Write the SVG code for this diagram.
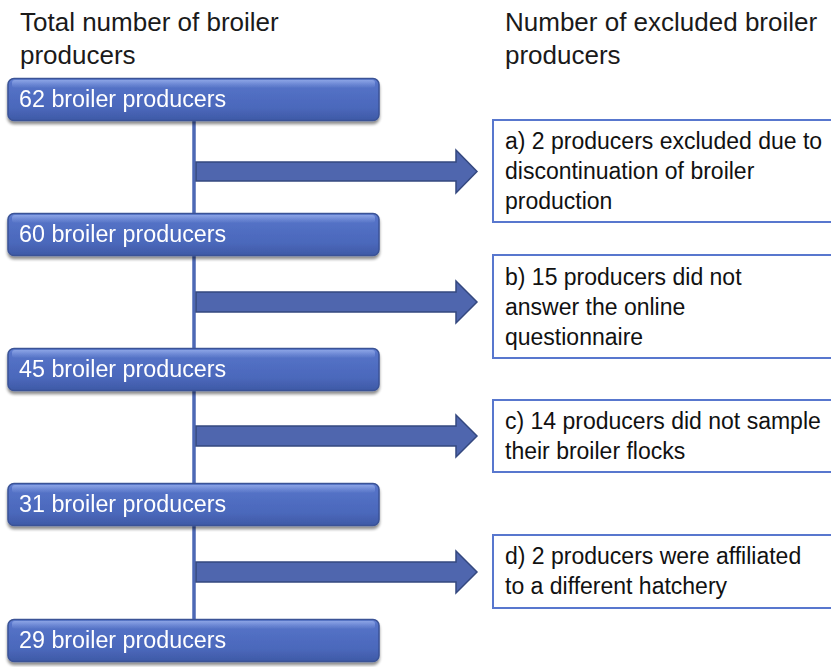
<svg xmlns="http://www.w3.org/2000/svg" width="831" height="667" viewBox="0 0 831 667">
<style>
  .hdr { font-family: "Liberation Sans", Arial, sans-serif; font-size: 26px; fill: #1a1a1a; }
  .lbl { font-family: "Liberation Sans", Arial, sans-serif; font-size: 23.3px; fill: #ffffff; }
  .ex { font-family: "Liberation Sans", Arial, sans-serif; font-size: 23px; fill: #111111; }
  .node rect.main { fill: url(#boxGrad); stroke: #3B5396; stroke-width: 1.5; }
  .node rect.hl { fill: url(#hlGrad); }
  .exbox rect { fill: #ffffff; stroke: #5877CE; stroke-width: 2; }
  .arrow { fill: #4F66AE; stroke: #34487F; stroke-width: 1.5; stroke-linejoin: miter; }
  .trunk { stroke: #4D68B5; stroke-width: 3.5; fill: none; }
</style>
<defs>
  <linearGradient id="boxGrad" x1="0" y1="0" x2="0" y2="1">
    <stop offset="0" stop-color="#6683D6"/>
    <stop offset="0.12" stop-color="#5573C8"/>
    <stop offset="0.7" stop-color="#4B68BB"/>
    <stop offset="1" stop-color="#3E59A6"/>
  </linearGradient>
  <linearGradient id="hlGrad" x1="0" y1="0" x2="0" y2="1">
    <stop offset="0" stop-color="#8EA6E6" stop-opacity="0.9"/>
    <stop offset="1" stop-color="#8EA6E6" stop-opacity="0"/>
  </linearGradient>
  <filter id="shadow" x="-5%" y="-20%" width="110%" height="160%">
    <feGaussianBlur in="SourceAlpha" stdDeviation="1.8"/>
    <feOffset dx="0" dy="2.5" result="b"/>
    <feComponentTransfer><feFuncA type="linear" slope="0.45"/></feComponentTransfer>
    <feMerge><feMergeNode/><feMergeNode in="SourceGraphic"/></feMerge>
  </filter>
</defs>

<rect width="831" height="667" fill="#ffffff"/>

<!-- headers -->
<g id="header-left">
  <text class="hdr" x="20" y="31">Total number of broiler</text>
  <text class="hdr" x="20" y="64">producers</text>
</g>
<g id="header-right">
  <text class="hdr" x="505" y="31">Number of excluded broiler</text>
  <text class="hdr" x="505" y="64">producers</text>
</g>

<!-- connectors -->
<g id="connectors">
  <line class="trunk" x1="194" y1="120" x2="194" y2="621"/>
  <path class="arrow" d="M196 162 H456 V150 L477 171.5 L456 193 V181 H196 Z"/>
  <path class="arrow" d="M196 292 H456 V281 L477 302 L456 323 V312 H196 Z"/>
  <path class="arrow" d="M196 426 H456 V415 L477 436 L456 457 V446 H196 Z"/>
  <path class="arrow" d="M196 562 H456 V551 L477 572 L456 593 V582 H196 Z"/>
</g>

<!-- main nodes -->
<g id="n62" class="node" filter="url(#shadow)">
  <rect class="main" x="8" y="78.5" width="371" height="42" rx="6"/>
  <rect class="hl" x="12" y="80" width="363" height="8" rx="3"/>
  <text class="lbl" x="19" y="107">62 broiler producers</text>
</g>
<g id="n60" class="node" filter="url(#shadow)">
  <rect class="main" x="8" y="213.5" width="371" height="42" rx="6"/>
  <rect class="hl" x="12" y="215" width="363" height="8" rx="3"/>
  <text class="lbl" x="19" y="242">60 broiler producers</text>
</g>
<g id="n45" class="node" filter="url(#shadow)">
  <rect class="main" x="8" y="348.5" width="371" height="42" rx="6"/>
  <rect class="hl" x="12" y="350" width="363" height="8" rx="3"/>
  <text class="lbl" x="19" y="377">45 broiler producers</text>
</g>
<g id="n31" class="node" filter="url(#shadow)">
  <rect class="main" x="8" y="483.5" width="371" height="42" rx="6"/>
  <rect class="hl" x="12" y="485" width="363" height="8" rx="3"/>
  <text class="lbl" x="19" y="512">31 broiler producers</text>
</g>
<g id="n29" class="node" filter="url(#shadow)">
  <rect class="main" x="8" y="619.5" width="371" height="42" rx="6"/>
  <rect class="hl" x="12" y="621" width="363" height="8" rx="3"/>
  <text class="lbl" x="19" y="648">29 broiler producers</text>
</g>

<!-- exclusion boxes -->
<g id="ex-a" class="exbox">
  <rect x="493" y="120" width="340" height="102"/>
  <text class="ex" x="505" y="149">a) 2 producers excluded due to</text>
  <text class="ex" x="505" y="179">discontinuation of broiler</text>
  <text class="ex" x="505" y="209">production</text>
</g>
<g id="ex-b" class="exbox">
  <rect x="493" y="255" width="340" height="103"/>
  <text class="ex" x="505" y="285">b) 15 producers did not</text>
  <text class="ex" x="505" y="315">answer the online</text>
  <text class="ex" x="505" y="345">questionnaire</text>
</g>
<g id="ex-c" class="exbox">
  <rect x="493" y="400" width="340" height="72"/>
  <text class="ex" x="505" y="429">c) 14 producers did not sample</text>
  <text class="ex" x="505" y="459">their broiler flocks</text>
</g>
<g id="ex-d" class="exbox">
  <rect x="493" y="535" width="340" height="73"/>
  <text class="ex" x="505" y="564">d) 2 producers were affiliated</text>
  <text class="ex" x="505" y="594">to a different hatchery</text>
</g>
</svg>
